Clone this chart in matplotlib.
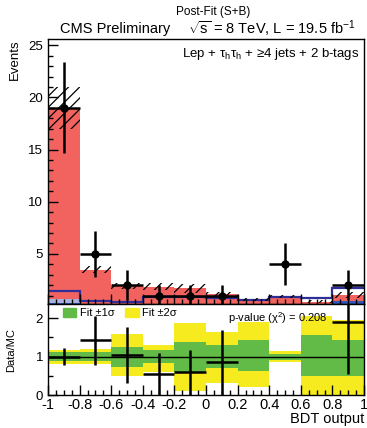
import numpy as np
import matplotlib
matplotlib.use("Agg")
import matplotlib.pyplot as plt
from matplotlib.patches import Patch
from matplotlib.ticker import MultipleLocator

plt.rcParams['font.family'] = ['Liberation Sans', 'DejaVu Sans']
plt.rcParams['mathtext.fontset'] = 'custom'
plt.rcParams['mathtext.rm'] = 'Liberation Sans'
plt.rcParams['mathtext.it'] = 'Liberation Sans:italic'
plt.rcParams['mathtext.sf'] = 'Liberation Sans'
plt.rcParams['hatch.linewidth'] = 0.9

# BDT output binning
edges = np.linspace(-1, 1, 11)
centers = 0.5 * (edges[:-1] + edges[1:])

# post-fit stack (events per bin)
mc_total = np.array([19.0, 3.5, 1.92, 1.85, 1.7, 1.18, 0.65, 0.92, 0.42, 1.05])
bkg_dark = np.array([0.25, 0.12, 0.1, 0.12, 0.12, 0.12, 0.12, 0.15, 0.18, 0.45])
bkg_light = np.array([0.4, 0.1, 0.08, 0.08, 0.08, 0.08, 0.06, 0.08, 0.06, 0.0])
mc_unc = np.array([2.0, 0.3, 0.3, 0.35, 0.4, 0.2, 0.12, 0.15, 0.12, 0.3])
signal = np.array([1.45, 0.5, 0.4, 0.9, 0.9, 0.8, 0.57, 0.9, 0.8, 1.75])

# observed data
data = np.array([19, 5, 2, 1, 1, 1, 0, 4, 0, 2])

# fit bands on the ratio (lower, upper)
band1_lo = np.array([0.89, 0.88, 0.74, 0.83, 0.59, 0.70, 0.63, 0.92, 0.50, 0.50])
band1_hi = np.array([1.11, 1.11, 1.26, 1.16, 1.38, 1.30, 1.42, 1.08, 1.55, 1.42])
band2_lo = np.array([0.81, 0.80, 0.50, 0.59, 0.10, 0.32, 0.20, 0.85, 0.00, 0.00])
band2_hi = np.array([1.18, 1.20, 1.60, 1.29, 1.88, 1.64, 1.89, 1.15, 2.05, 1.95])

W, H = 367, 428
fig = plt.figure(figsize=(W / 100, H / 100), dpi=100)
ax = fig.add_axes([48 / W, (H - 304) / H, (364 - 48) / W, (304 - 39) / H])
rax = fig.add_axes([48 / W, (H - 395) / H, (364 - 48) / W, (395 - 304) / H])

red = "#F2635F"
light = "#A9B1DC"
dark = "#3457BE"

# stacked backgrounds
ax.stairs(mc_total, edges, baseline=0, fill=True, color=red, lw=0)
ax.stairs(bkg_dark + bkg_light, edges, baseline=0, fill=True, color=light, lw=0)
ax.stairs(bkg_dark, edges, baseline=0, fill=True, color=dark, lw=0)
# signal outline
ax.stairs(signal, edges, baseline=None, color="#2E2E98", lw=1.6)
# uncertainty band
ax.stairs(mc_total + mc_unc, edges, baseline=mc_total - mc_unc, fill=True,
          facecolor="none", edgecolor="black", hatch="///", lw=0)

m = data > 0
ax.errorbar(centers[m], data[m], yerr=np.sqrt(data[m]), xerr=0.1, fmt="o",
            color="black", ms=5, elinewidth=1.8, capsize=0)

ax.set_xlim(-1, 1)
ax.set_ylim(0.2, 25.6)
ax.set_yticks([5, 10, 15, 20, 25])
ax.yaxis.set_minor_locator(MultipleLocator(1))
ax.xaxis.set_major_locator(MultipleLocator(0.2))
ax.xaxis.set_minor_locator(MultipleLocator(0.05))
ax.tick_params(which="both", direction="in", labelbottom=False, labelsize=9.5)
ax.tick_params(which="major", length=7, width=1)
ax.tick_params(which="minor", length=3.5, width=1)
ax.set_ylabel("Events", fontsize=9.5, loc="top", labelpad=5)

ax.text(0.985, 0.975, r"Lep + τ$_\mathrm{h}$τ$_\mathrm{h}$ + ≥4 jets + 2 b-tags",
        transform=ax.transAxes, ha="right", va="top", fontsize=9.5)
fig.text(213 / W, 1 - 12 / H, "Post-Fit (S+B)", ha="center", va="center", fontsize=8.5)
fig.text(60 / W, 1 - 29 / H, "CMS Preliminary", ha="left", va="center", fontsize=10.5)
fig.text(356 / W, 1 - 29 / H, r"$\sqrt{\mathrm{s}}$ = 8 TeV, L = 19.5 fb$^{-1}$",
         ha="right", va="center", fontsize=10.5)

# ratio panel
rax.stairs(band2_hi, edges, baseline=band2_lo, fill=True, color="#F6EB1F", lw=0)
rax.stairs(band1_hi, edges, baseline=band1_lo, fill=True, color="#63BB47", lw=0)
rax.axhline(1, color="black", lw=1)

ratio = data / mc_total
ratio_err = np.sqrt(data) / mc_total
ylim_r = (0, 2.37)
rm = (data > 0) & (ratio < ylim_r[1])
rax.errorbar(centers[rm], ratio[rm], yerr=ratio_err[rm], xerr=0.1, fmt="none",
             ecolor="black", elinewidth=1.8, capsize=0)

rax.set_xlim(-1, 1)
rax.set_ylim(*ylim_r)
rax.set_yticks([0, 1, 2])
rax.yaxis.set_minor_locator(MultipleLocator(0.5))
rax.xaxis.set_major_locator(MultipleLocator(0.2))
rax.xaxis.set_minor_locator(MultipleLocator(0.05))
rax.set_xticks(np.round(np.arange(-1, 1.01, 0.2), 1))
rax.set_xticklabels(["-1", "-0.8", "-0.6", "-0.4", "-0.2", "0", "0.2", "0.4", "0.6", "0.8", "1"])
rax.tick_params(which="both", direction="in", labelsize=10.5)
rax.tick_params(axis="x", pad=2)
rax.tick_params(axis="y", labelsize=9.5)
rax.tick_params(which="major", length=7, width=1)
rax.tick_params(which="minor", length=3.5, width=1)
rax.set_ylabel("Data/MC", fontsize=8)
rax.yaxis.set_label_coords(-0.1, 0.5)
rax.set_xlabel("BDT output", fontsize=10.5, ha="right", va="center")
rax.xaxis.set_label_coords(1.0, -0.265)

handles = [Patch(color="#63BB47", label="Fit ±1σ"), Patch(color="#F6EB1F", label="Fit ±2σ")]
rax.legend(handles=handles, loc="upper left", ncol=2, frameon=False, fontsize=8,
           handlelength=1.2, handleheight=0.9, handletextpad=0.3, columnspacing=1.0,
           borderaxespad=0.1, bbox_to_anchor=(0.03, 1.02))
rax.text(0.57, 0.93, r"p-value (χ$^2$) = 0.208", transform=rax.transAxes,
         ha="left", va="top", fontsize=8)

for a in (ax, rax):
    for s in a.spines.values():
        s.set_linewidth(1)

fig.savefig("out.png", dpi=100)
